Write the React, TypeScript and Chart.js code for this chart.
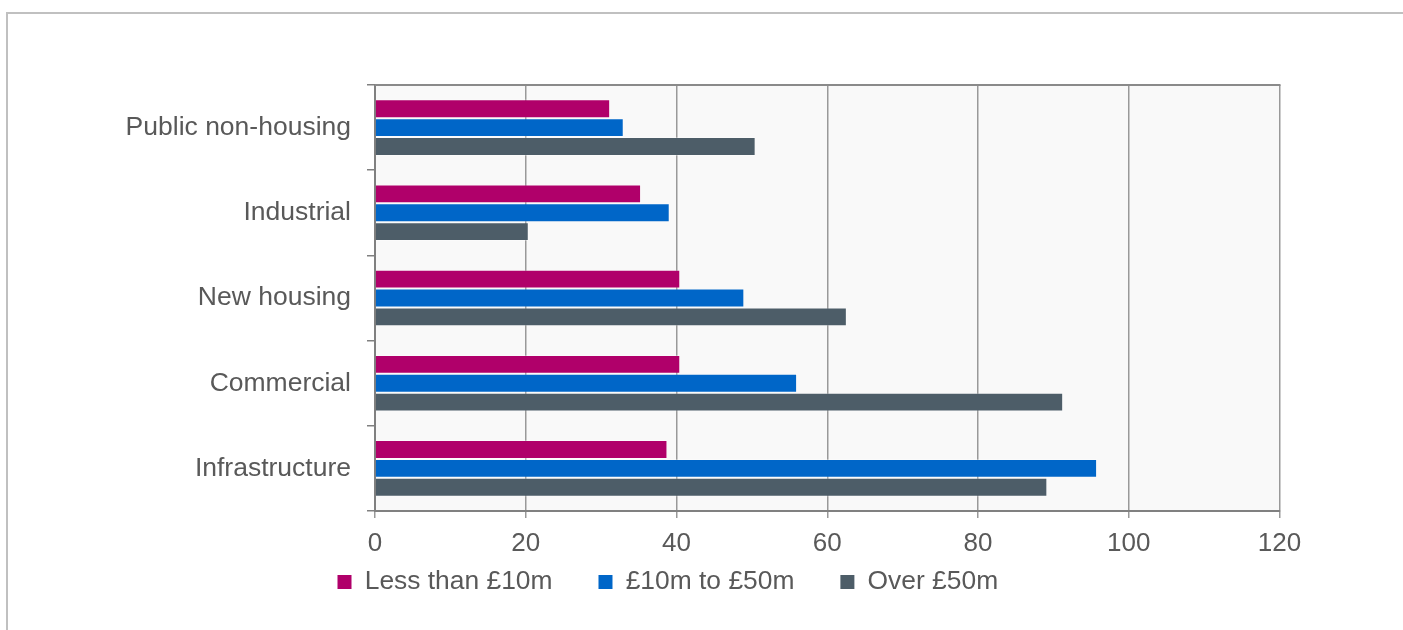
import React, { useEffect, useRef } from 'react';
import { Chart, registerables } from 'chart.js';

Chart.register(...registerables);

// ---- Data ----
const categories = ['Public non-housing', 'Industrial', 'New housing', 'Commercial', 'Infrastructure'];
const lessThan10m = [31.2, 35.3, 40.5, 40.5, 38.8];
const from10mTo50m = [33.0, 39.1, 49.0, 56.0, 95.8];
const over50m = [50.5, 20.4, 62.6, 91.3, 89.2];
const seriesLabels = ['Less than £10m', '£10m to £50m', 'Over £50m'];
const seriesColors = ['#B0006A', '#0066C8', '#4D5D68'];
const xTickValues = [0, 20, 40, 60, 80, 100, 120];

const FONT = "'Liberation Sans', Arial, Helvetica, sans-serif";
const TEXT = '#595959';
const W = 1403;
const H = 630;
const LEGEND_H = 60;
const LEGEND_PAD = 46;

const customPlugin = {
  id: 'customLayout',
  beforeLayout(chart: any) {
    const lg = chart.legend;
    if (lg && !lg.__patched) {
      lg.__patched = true;
      const orig = lg.fit;
      lg.fit = function () {
        orig.call(this);
        this.height = LEGEND_H;
      };
    }
  },
  afterLayout(chart: any) {
    const lg = chart.legend;
    if (!lg) return;
    lg.left = 337.5 - LEGEND_PAD;
    lg.right = W;
    lg.width = lg.right - lg.left;
    lg.top = 522.8;
    lg.bottom = H;
  },
  beforeDraw(chart: any) {
    const { ctx, chartArea } = chart;
    ctx.save();
    ctx.fillStyle = '#F9F9F9';
    ctx.fillRect(chartArea.left, chartArea.top, chartArea.right - chartArea.left, chartArea.bottom - chartArea.top);
    ctx.restore();
  },
  afterDatasetsDraw(chart: any) {
    const { ctx, chartArea } = chart;
    ctx.save();
    ctx.strokeStyle = '#8A8A8A';
    ctx.lineWidth = 2;
    ctx.beginPath();
    ctx.moveTo(chartArea.left, chartArea.top);
    ctx.lineTo(chartArea.right + 1, chartArea.top);
    ctx.stroke();
    ctx.restore();
  },
};

export default function App() {
  const canvasRef = useRef<HTMLCanvasElement | null>(null);

  useEffect(() => {
    if (!canvasRef.current) return;
    const seriesData = [lessThan10m, from10mTo50m, over50m];
    const chart = new Chart(canvasRef.current, {
      type: 'bar',
      data: {
        labels: categories,
        datasets: seriesLabels.map((label, i) => ({
          label,
          data: seriesData[i],
          backgroundColor: seriesColors[i],
          borderColor: 'rgba(255,255,255,0.3)',
          borderWidth: 1,
          categoryPercentage: 0.664,
          barPercentage: 1,
        })),
      },
      options: {
        indexAxis: 'y',
        responsive: false,
        animation: false,
        layout: { padding: { left: 0, top: 85, right: W - 1279.5, bottom: H - 511 - 40 - LEGEND_H } },
        scales: {
          x: {
            min: 0,
            max: 120,
            afterBuildTicks: (scale: any) => {
              scale.ticks = xTickValues.map((v) => ({ value: v }));
            },
            afterFit: (scale: any) => {
              scale.height = 40;
            },
            ticks: {
              font: { family: FONT, size: 26 },
              color: TEXT,
              padding: 10,
              maxRotation: 0,
            },
            grid: {
              color: '#999999',
              lineWidth: 1.5,
              drawTicks: true,
              tickLength: 7,
            },
            border: { display: true, color: '#808080', width: 2 },
          },
          y: {
            afterFit: (scale: any) => {
              scale.width = 375;
            },
            ticks: {
              font: { family: FONT, size: 26.5 },
              color: TEXT,
              padding: 16,
            },
            grid: {
              drawOnChartArea: false,
              drawTicks: true,
              tickLength: 8,
              color: '#808080',
              lineWidth: 1.5,
              offset: true,
            },
            border: { display: true, color: '#808080', width: 2 },
          },
        },
        plugins: {
          legend: {
            display: true,
            position: 'bottom',
            align: 'start',
            labels: {
              font: { family: FONT, size: 26.4 },
              color: TEXT,
              boxWidth: 14,
              boxHeight: 14,
              padding: LEGEND_PAD,
              generateLabels: (c: any) =>
                Chart.defaults.plugins.legend.labels
                  .generateLabels(c)
                  .map((l: any) => ({ ...l, lineWidth: 0, strokeStyle: 'rgba(0,0,0,0)' })),
            },
          },
          tooltip: { enabled: false },
          title: { display: false },
        },
      },
      plugins: [customPlugin],
    } as any);
    return () => chart.destroy();
  }, []);

  return (
    <div style={{ position: 'fixed', left: 0, top: 0, width: W, height: H, background: '#ffffff', overflow: 'hidden' }}>
      <div
        style={{
          position: 'absolute',
          left: 6,
          top: 12,
          width: W,
          height: H,
          borderLeft: '2px solid #C0C0C0',
          borderTop: '2px solid #C0C0C0',
        }}
      />
      <canvas ref={canvasRef} width={W} height={H} style={{ position: 'absolute', left: 0, top: 0, width: W, height: H }} />
    </div>
  );
}
